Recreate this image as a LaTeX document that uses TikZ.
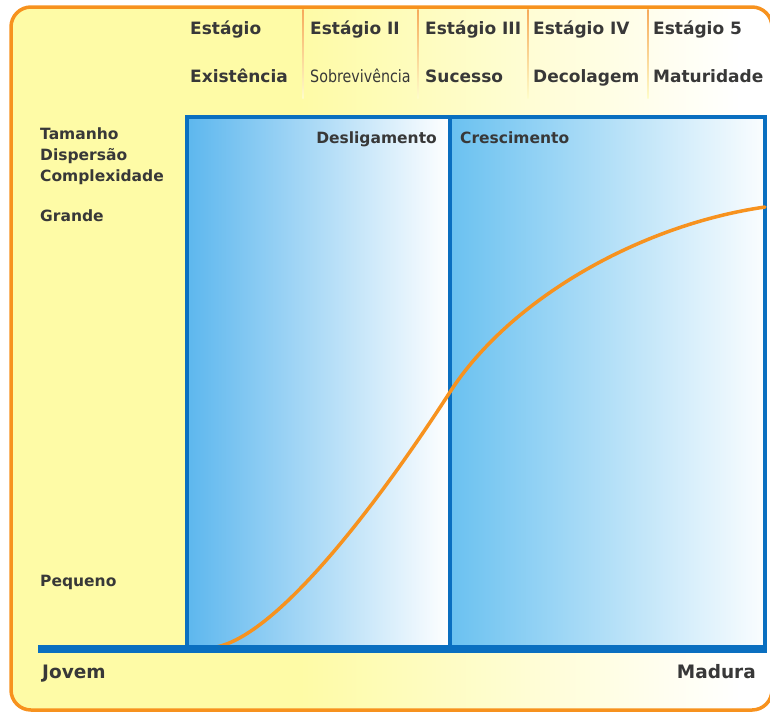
\documentclass[tikz,border=0pt]{standalone}
\usepackage{fontspec}
\setmainfont{DejaVu Sans}
\usepackage{graphicx}
\definecolor{frameorange}{HTML}{F7921E}
\definecolor{sepsorange}{HTML}{F6A95A}
\definecolor{bgyellow}{HTML}{FEFBA6}
\definecolor{axisblue}{HTML}{0A6FC0}
\definecolor{paneblue}{HTML}{5DB7EE}
\definecolor{paneblueR}{HTML}{6AC1F0}
\definecolor{inktext}{HTML}{383838}
\tikzset{
  hdr/.style={anchor=base west, inner sep=0pt, text=inktext,
    font=\fontsize{17}{17}\selectfont\bfseries},
  lbl/.style={anchor=base west, inner sep=0pt, text=inktext,
    font=\fontsize{15.5}{15.5}\selectfont\bfseries},
  axlbl/.style={anchor=base west, inner sep=0pt, text=inktext,
    font=\fontsize{18.5}{18.5}\selectfont\bfseries},
  stagesep/.style={top color=sepsorange, bottom color=bgyellow!60!white},
  panelframe/.style={draw=axisblue, line width=4.5pt},
  growth/.style={draw=frameorange, line width=3.5pt, line cap=round},
  framebox/.style={rounded corners=20pt},
}
\begin{document}
\begin{tikzpicture}[x=1pt, y=-1pt]
\useasboundingbox (0,0) rectangle (770,713);

% background: yellow on the left, fading to white on the right
\begin{scope}
  \clip[framebox] (11,7) rectangle (772,710);
  \fill[bgyellow] (0,0) rectangle (300,713);
  \shade[left color=bgyellow, middle color=bgyellow!55!white, right color=white]
    (300,0) rectangle (740,713);
  \fill[white] (740,0) rectangle (772,713);
\end{scope}
\draw[framebox, draw=frameorange, line width=3.5pt] (11,7) rectangle (772,710);

% stage separators in the header
\foreach \sx in {303,418,528,648}
  \shade[stagesep] (\sx-0.7,9) rectangle (\sx+0.7,98);

% chart panels
\shade[left color=paneblue, right color=white] (187,117) rectangle (450,649);
\shade[left color=paneblueR, right color=white!85!paneblueR!20] (450,117) rectangle (765,649);
\draw[panelframe] (187,117) rectangle (765,649);
\draw[panelframe, line width=4pt] (450,117) -- (450,649);

% growth curve: two cubic pieces meeting at the inflection point
\coordinate (c0) at (207,648);
\coordinate (cm) at (450,392);
\coordinate (c1) at (765,207);
\draw[growth] (c0) .. controls (270,648) and (380,500.5) .. (cm)
  .. controls (510,299) and (640,225) .. (c1);

% time axis
\coordinate (axL) at (38,649);
\coordinate (axR) at (767,649);
\draw[draw=axisblue, line width=8pt] (axL) -- (axR);

% stage headers
\node[hdr] (s1a) at (190,34) {Estágio};
\node[hdr] (s1b) at (190,82) {Existência};
\node[hdr] (s2a) at (310,34) {Estágio II};
\node[hdr, font=\fontsize{17}{17}\selectfont\mdseries] (s2b) at (310,82)
  {\scalebox{0.84}[1]{Sobrevivência}};
\node[hdr] (s3a) at (425,34) {Estágio III};
\node[hdr] (s3b) at (425,82) {Sucesso};
\node[hdr] (s4a) at (533,34) {Estágio IV};
\node[hdr] (s4b) at (533,82) {Decolagem};
\node[hdr] (s5a) at (653,34) {Estágio 5};
\node[hdr] (s5b) at (653,82) {Maturidade};

% vertical axis labels
\node[lbl] (tam) at (40,139) {Tamanho};
\node[lbl] (dis) at (40,160) {Dispersão};
\node[lbl] (com) at (40,181) {Complexidade};
\node[lbl] (gra) at (40,221) {Grande};
\node[lbl] (peq) at (40,586) {Pequeno};

% panel titles
\node[lbl, anchor=base east] (des) at (437,143) {Desligamento};
\node[lbl] (cre) at (460,143) {Crescimento};

% horizontal axis labels
\node[axlbl] (jov) at (42,678) {Jovem};
\node[axlbl, anchor=base east] (mad) at (756,678) {Madura};
\end{tikzpicture}
\end{document}
